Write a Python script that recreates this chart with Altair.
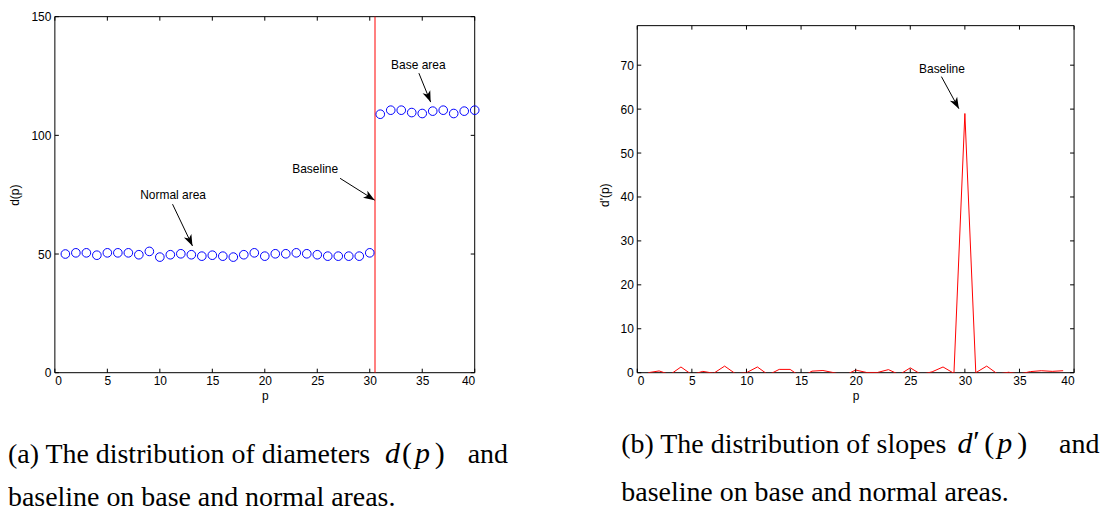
import math
import altair as alt
import pandas as pd

# ---------------- data ----------------
p_left = list(range(1, 41))
d_left = [50.0, 50.5, 50.5, 49.5, 50.5, 50.5, 50.5, 49.7, 51.1, 48.7,
          49.7, 50.1, 49.7, 49.1, 49.5, 49.1, 48.7, 49.7, 50.5, 49.1,
          50.1, 50.1, 50.5, 50.1, 49.7, 49.1, 49.1, 49.1, 49.1, 50.5,
          108.9, 110.6, 110.6, 109.6, 109.2, 110.2, 110.6, 109.2, 110.2, 110.6]
baseline_p = [30.5]

p_right = list(range(1, 40))
d_right = [0.0, 0.4, -0.45, 1.3, -0.45, 0.3, -0.13, 1.5, -0.25, 0.0,
           1.3, -0.5, 0.75, 0.75, -1.0, 0.35, 0.5, 0.0, -0.6, 0.6,
           0.05, 0.05, 0.7, -0.45, 1.1, -0.4, 0.2, 1.3, -0.15, 59.0,
           0.0, 1.5, -0.3, 0.1, -0.3, 0.25, 0.45, 0.3, 0.45]

x_ticks = [0, 5, 10, 15, 20, 25, 30, 35, 40]
yl_ticks = [0, 50, 100, 150]
yr_ticks = [0, 10, 20, 30, 40, 50, 60, 70]

# annotations: label, text position, arrow start, arrow end
left_notes = [
    ("Normal area", 11.26, 74.8, 11.21, 71.0, 13.11, 53.4),
    ("Baseline", 24.8, 85.7, 27.17, 81.9, 30.47, 72.7),
    ("Base area", 34.63, 129.8, 34.68, 126.2, 35.8, 114.0),
]
right_notes = [
    ("Baseline", 27.9, 69.2, 27.85, 67.4, 29.45, 60.1),
]

# ---------------- layout ----------------
LW, RW, H = 421, 438, 357
XMAX = 40
YL_TOP = 150
YR_FRAME = 79
YR_TOP = YR_FRAME * H / 348.0   # right frame is shorter than the left one

FONT = "Liberation Sans"
SERIF = "Liberation Serif"
ARROW = "M0,0 L-0.7,1.9 L0,1.4 L0.7,1.9 Z"
one = pd.DataFrame({"k": [0]})


def panel(width, ytop, yframe, yticks, ytitle, notes, data_layers, caps):
    xs = alt.Scale(domain=[0, XMAX], nice=False, zero=False)
    ys = alt.Scale(domain=[0, ytop], nice=False, zero=False)
    xax = alt.Axis(values=x_ticks, domain=False, ticks=False, tickSize=0,
                   grid=False, labelPadding=3, titlePadding=4, format="d")
    yax = alt.Axis(values=yticks, domain=False, ticks=False, tickSize=0,
                   grid=False, labelPadding=4, titlePadding=9, format="d")

    def X(f):
        return alt.X(f, scale=xs, axis=xax, title="p")

    def Y(f):
        return alt.Y(f, scale=ys, axis=yax, title=ytitle)

    sx = width / XMAX
    sy = H / ytop

    fr = pd.DataFrame({"x0": [0], "x1": [XMAX], "y0": [0], "y1": [yframe]})
    frame = alt.Chart(fr).mark_rect(filled=False, stroke="black", strokeWidth=1).encode(
        x=X("x0:Q"), x2="x1:Q", y=Y("y0:Q"), y2="y1:Q")

    xt = pd.DataFrame({"v": x_ticks, "lo": [0] * len(x_ticks), "hi": [yframe] * len(x_ticks)})
    yt = pd.DataFrame({"v": yticks, "lo": [0] * len(yticks), "hi": [XMAX] * len(yticks)})
    tick_layers = [
        alt.Chart(xt).mark_rule(color="black", y2Offset=-4).encode(
            x=X("v:Q"), y=Y("lo:Q"), y2="lo:Q"),
        alt.Chart(xt).mark_rule(color="black", y2Offset=4).encode(
            x=X("v:Q"), y=Y("hi:Q"), y2="hi:Q"),
        alt.Chart(yt).mark_rule(color="black", x2Offset=4).encode(
            y=Y("v:Q"), x=X("lo:Q"), x2="lo:Q"),
        alt.Chart(yt).mark_rule(color="black", x2Offset=-4).encode(
            y=Y("v:Q"), x=X("hi:Q"), x2="hi:Q"),
    ]

    nd = pd.DataFrame(notes, columns=["label", "tx", "ty", "x0", "y0", "x1", "y1"])
    nd["ang"] = [
        (math.degrees(math.atan2((r.x1 - r.x0) * sx, (r.y1 - r.y0) * sy)) + 360) % 360
        for r in nd.itertuples()
    ]
    note_text = alt.Chart(nd).mark_text(font=FONT, fontSize=12, color="black",
                                        align="center", baseline="middle").encode(
        x=X("tx:Q"), y=Y("ty:Q"), text="label:N")
    note_line = alt.Chart(nd).mark_rule(color="black", strokeWidth=1).encode(
        x=X("x0:Q"), y=Y("y0:Q"), x2="x1:Q", y2="y1:Q")
    note_head = alt.Chart(nd).mark_point(shape=ARROW, filled=True, color="black",
                                         size=140, opacity=1, strokeWidth=0).encode(
        x=X("x1:Q"), y=Y("y1:Q"), angle=alt.Angle("ang:Q", scale=None))

    layers = [frame] + data_layers(X, Y) + tick_layers + [note_line, note_head, note_text] + caps
    return alt.layer(*layers).properties(width=width, height=H)


def left_data(X, Y):
    df = pd.DataFrame({"p": p_left, "d": d_left})
    pts = alt.Chart(df).mark_point(shape="circle", filled=False, color="#0000ff",
                                   size=75, strokeWidth=1, opacity=1).encode(
        x=X("p:Q"), y=Y("d:Q"))
    bd = pd.DataFrame({"b": baseline_p, "lo": [0], "hi": [YL_TOP]})
    bl = alt.Chart(bd).mark_rule(color="#ff0000", strokeWidth=1).encode(
        x=X("b:Q"), y=Y("lo:Q"), y2="hi:Q")
    return [bl, pts]


def right_data(X, Y):
    df = pd.DataFrame({"p": p_right, "dd": d_right})
    return [alt.Chart(df).mark_line(color="#ff0000", strokeWidth=1, clip=True).encode(
        x=X("p:Q"), y=Y("dd:Q"))]


def cap(txt, x, y, italic=False, size=28):
    return alt.Chart(one).mark_text(align="left", baseline="alphabetic",
                                    font=SERIF, fontSize=size, color="black",
                                    fontStyle="italic" if italic else "normal").encode(
        x=alt.value(x), y=alt.value(y), text=alt.value(txt))


# captions (pixel offsets relative to each panel's plot origin)
L0, T0 = 55, 16
left_caps = [
    cap("(a) The distribution of diameters", 8 - L0, 464 - T0),
    cap("d", 386 - L0, 464 - T0, italic=True, size=30),
    cap("(", 403 - L0, 464 - T0, size=30),
    cap("p", 416 - L0, 464 - T0, italic=True, size=30),
    cap(")", 436 - L0, 464 - T0, size=30),
    cap("and", 469 - L0, 464 - T0),
    cap("baseline on base and normal areas.", 8 - L0, 507 - T0),
]
R0 = 639
right_caps = [
    cap("(b) The distribution of slopes", 623 - R0, 454 - T0),
    cap("d", 960 - R0, 454 - T0, italic=True, size=30),
    cap("\u2032", 976 - R0, 452 - T0, size=30),
    cap("(", 987 - R0, 454 - T0, size=30),
    cap("p", 1000 - R0, 454 - T0, italic=True, size=30),
    cap(")", 1020 - R0, 454 - T0, size=30),
    cap("and", 1062 - R0, 454 - T0),
    cap("baseline on base and normal areas.", 623 - R0, 502 - T0),
]

left = panel(LW, YL_TOP, YL_TOP, yl_ticks, "d(p)", left_notes, left_data, left_caps)
right = panel(RW, YR_TOP, YR_FRAME, yr_ticks, "d'(p)", right_notes, right_data, right_caps)

chart = alt.hconcat(left, right, spacing=163, bounds="flush").properties(
    padding={"left": 0, "top": 2, "right": 0, "bottom": 0}
).configure_view(stroke=None).configure_axis(
    labelFont=FONT, labelFontSize=12, labelColor="black",
    titleFont=FONT, titleFontSize=12, titleColor="black", titleFontWeight="normal"
)

chart.save("out.html", embed_options={"renderer": "svg", "actions": False})
